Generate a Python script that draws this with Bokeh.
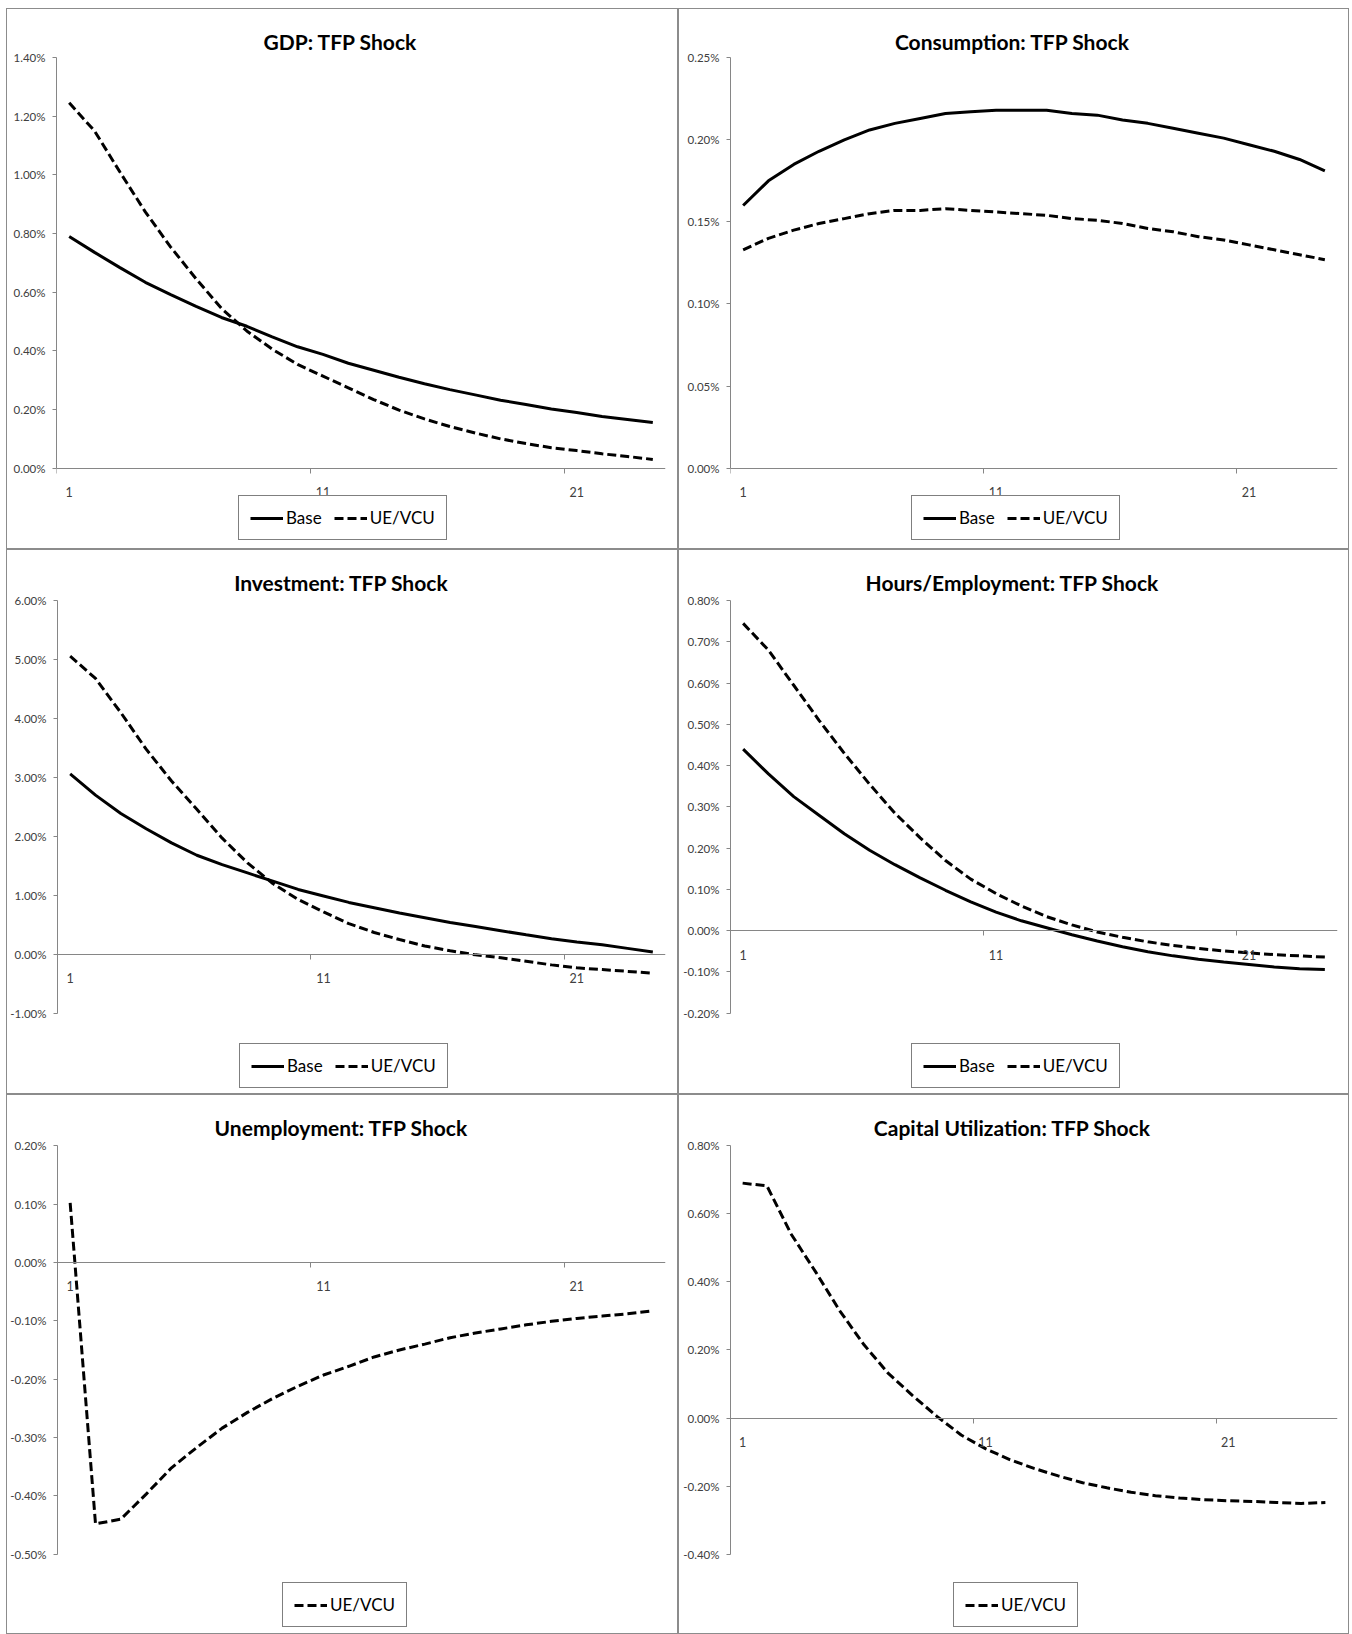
from bokeh.plotting import figure
from bokeh.layouts import column, row
from bokeh.models import (Range1d, FixedTicker, PrintfTickFormatter, Legend,
                          LegendItem, Label, Spacer)
from bokeh.embed import file_html
from bokeh.resources import INLINE

# ---------------- data (values in percent) ----------------
periods_24 = list(range(1, 25))
periods_25 = list(range(1, 26))
x_label_ticks = [1, 11, 21]

gdp_base = [0.790, 0.736, 0.684, 0.634, 0.592, 0.552, 0.514, 0.484, 0.448, 0.414,
            0.388, 0.358, 0.334, 0.310, 0.288, 0.268, 0.250, 0.232, 0.217, 0.202,
            0.190, 0.176, 0.166, 0.156]
gdp_ue = [1.246, 1.150, 1.010, 0.874, 0.754, 0.646, 0.545, 0.468, 0.406, 0.354,
          0.314, 0.274, 0.234, 0.198, 0.168, 0.142, 0.120, 0.100, 0.084, 0.070,
          0.060, 0.049, 0.040, 0.030]

cons_base = [0.160, 0.175, 0.185, 0.193, 0.200, 0.206, 0.210, 0.213, 0.216, 0.217,
             0.218, 0.218, 0.218, 0.216, 0.215, 0.212, 0.210, 0.207, 0.204, 0.201,
             0.197, 0.193, 0.188, 0.181]
cons_ue = [0.133, 0.140, 0.145, 0.149, 0.152, 0.155, 0.157, 0.157, 0.158, 0.157,
           0.156, 0.155, 0.154, 0.152, 0.151, 0.149, 0.146, 0.144, 0.141, 0.139,
           0.136, 0.133, 0.130, 0.127]

inv_base = [3.06, 2.70, 2.39, 2.13, 1.89, 1.68, 1.52, 1.38, 1.24, 1.10,
            0.99, 0.88, 0.79, 0.70, 0.62, 0.54, 0.47, 0.40, 0.33, 0.265,
            0.21, 0.16, 0.10, 0.04]
inv_ue = [5.06, 4.68, 4.10, 3.48, 2.94, 2.46, 1.97, 1.55, 1.20, 0.93,
          0.72, 0.52, 0.37, 0.25, 0.14, 0.06, -0.01, -0.06, -0.12, -0.18,
          -0.23, -0.26, -0.29, -0.32]

hours_base = [0.440, 0.380, 0.325, 0.280, 0.235, 0.195, 0.160, 0.128, 0.098, 0.070,
              0.045, 0.024, 0.007, -0.010, -0.025, -0.039, -0.051, -0.061, -0.069, -0.076,
              -0.082, -0.088, -0.092, -0.094]
hours_ue = [0.745, 0.680, 0.595, 0.510, 0.430, 0.355, 0.285, 0.225, 0.170, 0.125,
            0.090, 0.060, 0.034, 0.014, -0.003, -0.016, -0.027, -0.036, -0.043, -0.049,
            -0.054, -0.058, -0.061, -0.064]

unemp_ue = [0.102, -0.448, -0.440, -0.397, -0.352, -0.317, -0.284, -0.257, -0.233, -0.212,
            -0.193, -0.178, -0.162, -0.150, -0.140, -0.129, -0.121, -0.114, -0.107, -0.101,
            -0.096, -0.092, -0.088, -0.083]

caputil_ue = [0.690, 0.682, 0.540, 0.430, 0.315, 0.215, 0.131, 0.066, 0.005, -0.050,
              -0.090, -0.122, -0.148, -0.170, -0.190, -0.205, -0.218, -0.228, -0.235, -0.240,
              -0.243, -0.245, -0.248, -0.251, -0.248]

# ---------------- styling ----------------
FONT = "Lato"
AXIS_GRAY = "#868686"
LABEL_COLOR = "#404040"
BORDER_GRAY = "#8c8c8c"
SOLID = "solid"
DASH = "9 4"
LEGEND_H = 42


def make_panel(title, periods, series, y_start, y_end, y_step,
               width, height, mb_left, mb_right, pad_top, pad_bottom,
               title_cx, legend_x, legend_top):
    # canvas lies inside a 1px border; the frame fills the canvas vertically,
    # the value axis is bounded to the data range
    hc = height - 2
    data_px = hc - pad_top - pad_bottom
    per_px = (y_end - y_start) / data_px
    p = figure(width=width, height=height,
               x_range=Range1d(0.5, len(periods) + 0.5),
               y_range=Range1d(y_start - pad_bottom * per_px, y_end + pad_top * per_px),
               output_backend="svg", toolbar_location=None,
               min_border_left=mb_left, min_border_right=mb_right,
               min_border_top=0, min_border_bottom=0,
               background_fill_color="white", border_fill_color="white",
               outline_line_color=None,
               styles={"border": f"1px solid {BORDER_GRAY}"})
    p.xgrid.visible = False
    p.ygrid.visible = False

    items = []
    for label, vals, dash in series:
        r = p.line(periods, vals, line_color="black", line_width=3, line_dash=dash)
        items.append(LegendItem(label=label, renderers=[r]))

    # category axis crossing the value axis at zero
    xa = p.xaxis[0]
    xa.fixed_location = 0
    xa.ticker = FixedTicker(ticks=x_label_ticks,
                            minor_ticks=[t - 0.5 for t in x_label_ticks])
    xa.axis_line_color = AXIS_GRAY
    xa.axis_line_width = 1
    xa.major_tick_line_color = None
    xa.major_tick_in = 0
    xa.major_tick_out = 0
    xa.minor_tick_line_color = AXIS_GRAY
    xa.minor_tick_in = 0
    xa.minor_tick_out = 5
    xa.major_label_standoff = 14
    xa.major_label_text_font = FONT
    xa.major_label_text_font_size = "12.5px"
    xa.major_label_text_color = LABEL_COLOR

    n = int(round((y_end - y_start) / y_step))
    ya = p.yaxis[0]
    ya.bounds = (y_start, y_end)
    ya.ticker = FixedTicker(ticks=[round(y_start + i * y_step, 4) for i in range(n + 1)],
                            minor_ticks=[])
    ya.formatter = PrintfTickFormatter(format="%.2f%%")
    ya.axis_line_color = AXIS_GRAY
    ya.major_tick_line_color = AXIS_GRAY
    ya.major_tick_in = 0
    ya.major_tick_out = 4
    ya.minor_tick_line_color = None
    ya.major_label_standoff = 7
    ya.major_label_text_font = FONT
    ya.major_label_text_font_size = "11.5px"
    ya.major_label_text_color = LABEL_COLOR

    # chart title (centred over the chart area)
    p.add_layout(Label(x=title_cx, y=hc - 29.5, x_units="screen", y_units="screen",
                       text=title, text_align="center", text_baseline="middle",
                       text_font=FONT, text_font_style="bold", text_font_size="21px",
                       text_color="black"))

    legend = Legend(items=items, location=(legend_x, hc - legend_top - LEGEND_H),
                    orientation="horizontal",
                    border_line_color="black", border_line_width=1,
                    background_fill_color="white", background_fill_alpha=1.0,
                    label_text_font=FONT, label_text_font_size="17px",
                    label_text_color="black",
                    glyph_width=33, glyph_height=20, label_height=20,
                    label_standoff=3, spacing=12, padding=11, margin=0)
    p.add_layout(legend)
    return p


WL, WR = 672, 671
H1, H2, H3 = 541, 545, 540

p1 = make_panel("GDP: TFP Shock", periods_24,
                [("Base", gdp_base, SOLID), ("UE/VCU", gdp_ue, DASH)],
                0.0, 1.4, 0.2, WL, H1, 49, 14, 48, 82, 284, 182, 487)
p2 = make_panel("Consumption: TFP Shock", periods_24,
                [("Base", cons_base, SOLID), ("UE/VCU", cons_ue, DASH)],
                0.0, 0.25, 0.05, WR, H1, 51, 13, 48, 82, 282, 181, 487)
p3 = make_panel("Investment: TFP Shock", periods_24,
                [("Base", inv_base, SOLID), ("UE/VCU", inv_ue, DASH)],
                -1.0, 6.0, 1.0, WL, H2, 49, 14, 50, 82, 284, 182, 494)
p4 = make_panel("Hours/Employment: TFP Shock", periods_24,
                [("Base", hours_base, SOLID), ("UE/VCU", hours_ue, DASH)],
                -0.2, 0.8, 0.1, WR, H2, 51, 13, 50, 82, 282, 181, 494)
p5 = make_panel("Unemployment: TFP Shock", periods_24,
                [("UE/VCU", unemp_ue, DASH)],
                -0.5, 0.2, 0.1, WL, H3, 49, 14, 50, 81, 284, 225, 488)
p6 = make_panel("Capital Utilization: TFP Shock", periods_25,
                [("UE/VCU", caputil_ue, DASH)],
                -0.4, 0.8, 0.2, WR, H3, 51, 13, 50, 81, 282, 223, 488)

layout = column(Spacer(height=8),
                row(Spacer(width=6), p1, p2),
                row(Spacer(width=6), p3, p4),
                row(Spacer(width=6), p5, p6))

open("out.html", "w").write(file_html(layout, INLINE))
